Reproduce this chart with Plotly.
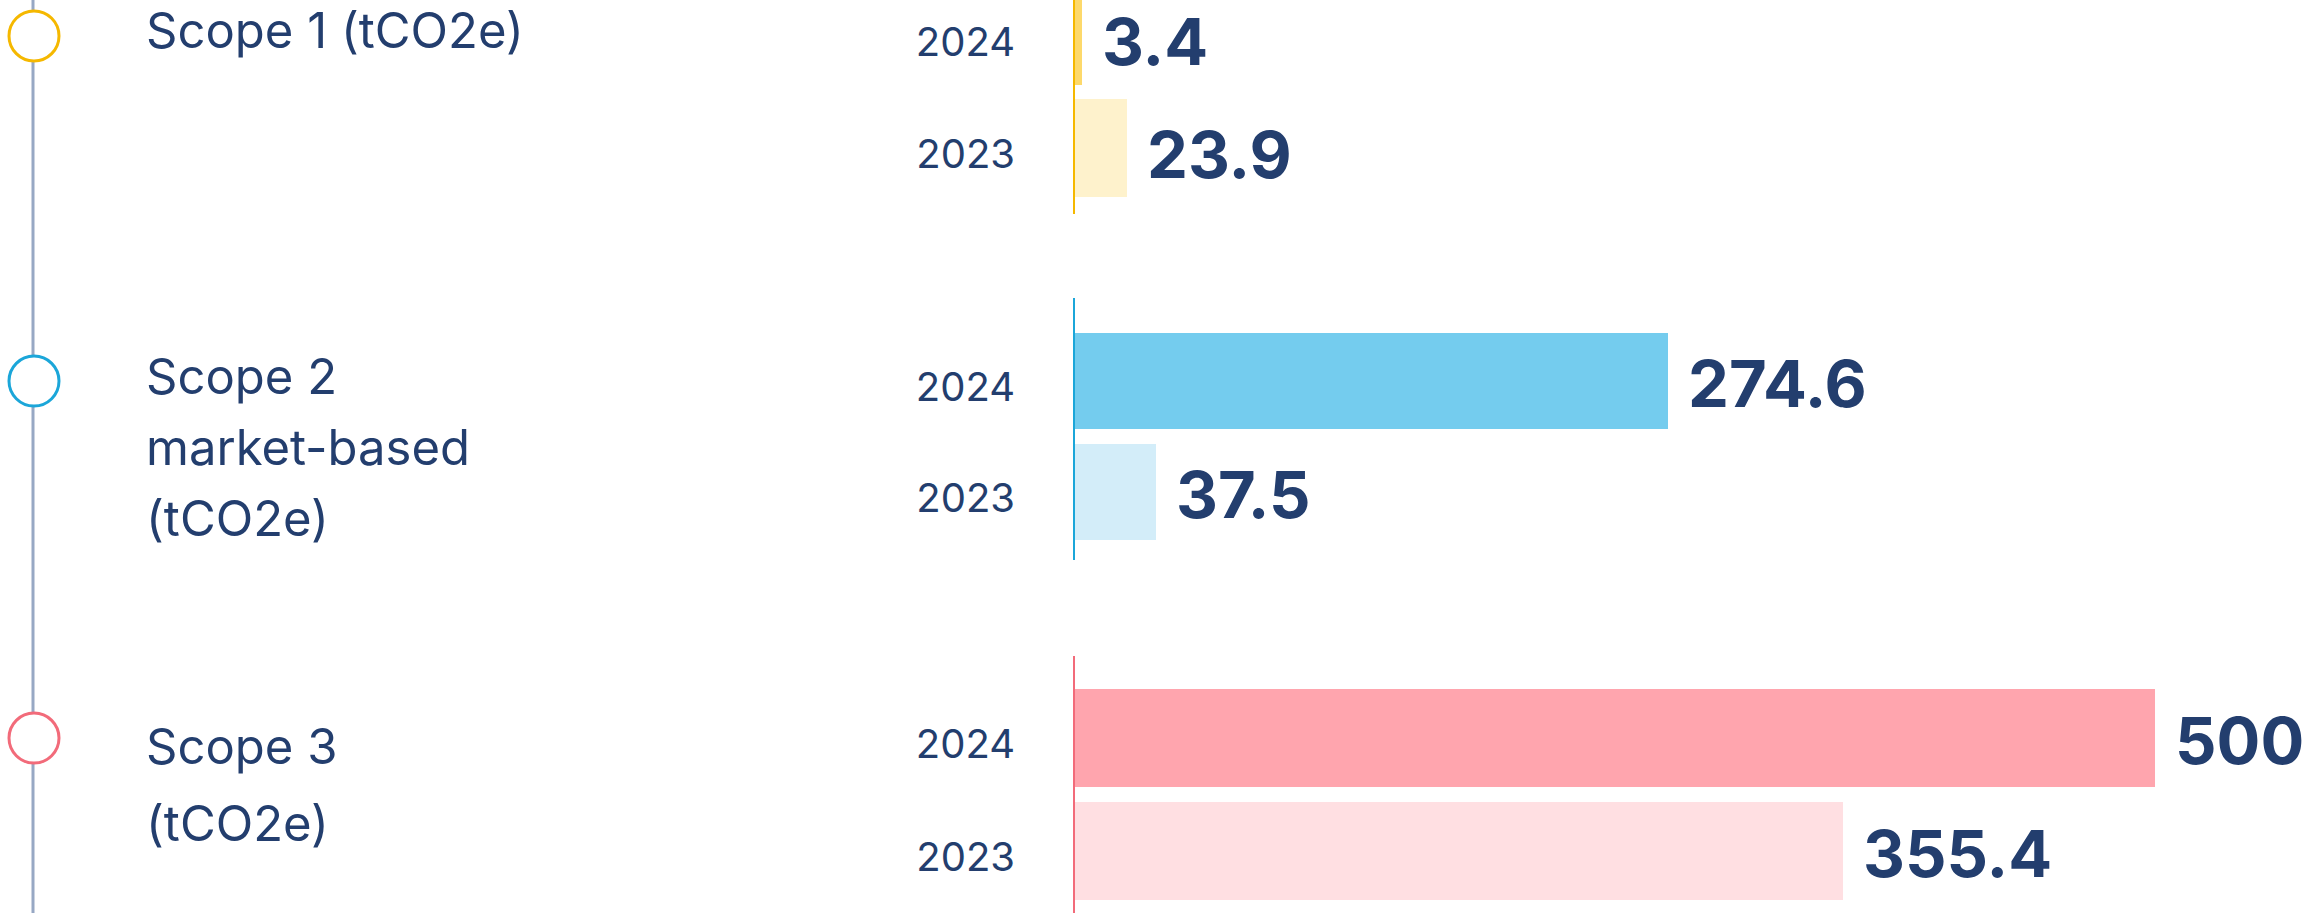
import plotly.graph_objects as go

# ---- data ----
scopes = ["Scope 1", "Scope 2", "Scope 3"]
scope_labels = [["Scope 1 (tCO2e)"], ["Scope 2", "market-based", "(tCO2e)"], ["Scope 3", "(tCO2e)"]]
years = ["2024", "2023"]
values_2024 = [3.4, 274.6, 500]
values_2023 = [23.9, 37.5, 355.4]

# ---- style ----
W, H = 2310, 913
NAVY = "#233e6e"
TIMELINE = "#97a8c4"
axis_colors = ["#f5b800", "#1ba6d9", "#f26b7a"]
bar_colors_2024 = ["#fdd96b", "#74ccee", "#ffa5ae"]
bar_colors_2023 = ["#fef2cc", "#d3edf9", "#ffdfe2"]
y_domains = [[0.7656, 1.0], [0.3866, 0.6736], [0.0, 0.2815]]
y_ranges = [[-0.589, 1.321], [-0.612, 1.748], [-0.548, 1.726]]
x_domain = [1075 / W, 1.0]
x_range = [0, (W - 1075) / 2.16]
label_line_gap = [72, 71, 77]
label_first_shift = [5, 5, -8]
value_label_shift = [-6, -2, -2]
LABEL_FONT = "Inter"
cat_order = ["2023", "2024"]

fig = go.Figure()
annotations = []
shapes = [dict(type="line", xref="paper", yref="paper", x0=33 / W, x1=33 / W, y0=0, y1=1,
               line=dict(color=TIMELINE, width=3), layer="below")]

for i, s in enumerate(scopes):
    n = i + 1
    xa = "x" if n == 1 else f"x{n}"
    ya = "y" if n == 1 else f"y{n}"
    vals = [values_2024[i], values_2023[i]]
    fig.add_trace(go.Bar(
        x=vals, y=years, orientation="h", xaxis=xa, yaxis=ya,
        marker=dict(color=[bar_colors_2024[i], bar_colors_2023[i]], line=dict(width=0)),
        width=0.87, showlegend=False, hoverinfo="skip", name=s,
    ))
    layout_x = "xaxis" if n == 1 else f"xaxis{n}"
    layout_y = "yaxis" if n == 1 else f"yaxis{n}"
    fig.layout[layout_x] = dict(domain=x_domain, range=x_range, visible=False, anchor=ya, fixedrange=True)
    fig.layout[layout_y] = dict(
        domain=y_domains[i], range=y_ranges[i], anchor=xa, type="category",
        categoryorder="array", categoryarray=cat_order,
        showline=True, linecolor=axis_colors[i], linewidth=2,
        showgrid=False, zeroline=False,
        ticks="outside", ticklen=50, tickcolor="rgba(0,0,0,0)",
        ticklabelshift=6,
        tickfont=dict(family=LABEL_FONT, size=40, color=NAVY),
    )
    for v, yr in zip(vals, years):
        annotations.append(dict(
            x=v, y=cat_order.index(yr), xref=xa, yref=ya, xanchor="left", yanchor="middle",
            xshift=18, yshift=value_label_shift[i],
            text=f"<b>{v:g}</b>", showarrow=False,
            font=dict(family=LABEL_FONT, size=65, color=NAVY),
        ))
    # circle on timeline
    shapes.append(dict(
        type="circle", xref="paper", yref=ya, xsizemode="pixel", ysizemode="pixel",
        xanchor=34 / W, yanchor=cat_order.index("2024"), x0=-25, x1=25, y0=-25, y1=25,
        line=dict(color=axis_colors[i], width=3), fillcolor="white", layer="above",
    ))
    for k, line in enumerate(scope_labels[i]):
        annotations.append(dict(
            x=144 / W, y=cat_order.index("2024"), xref="paper", yref=ya, xanchor="left", yanchor="middle",
            yshift=-k * label_line_gap[i] + label_first_shift[i], text=line, showarrow=False,
            font=dict(family=LABEL_FONT, size=49, color=NAVY),
        ))

fig.update_layout(
    width=W, height=H, margin=dict(l=0, r=0, t=0, b=0),
    paper_bgcolor="white", plot_bgcolor="white",
    annotations=annotations, shapes=shapes, bargap=0,
)

fig.write_html("out.html", config={"displayModeBar": False},
               post_script="document.body.style.margin='0';")
